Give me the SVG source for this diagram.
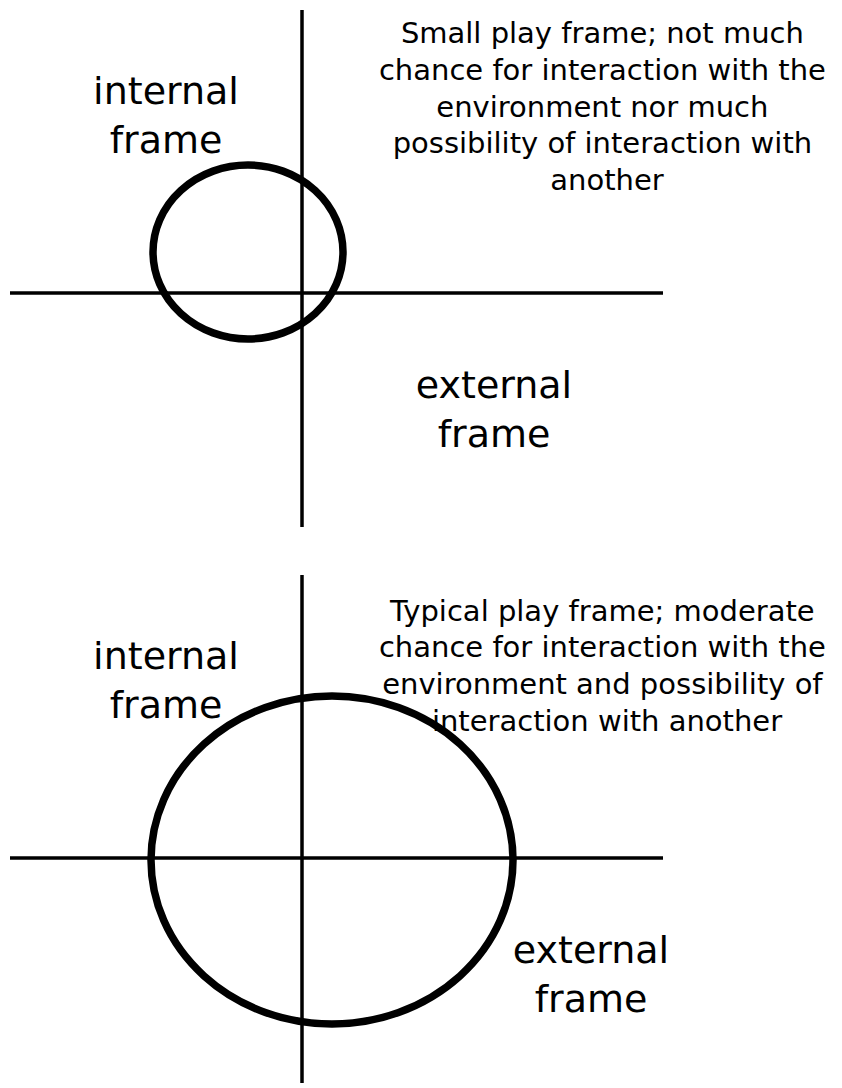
<svg xmlns="http://www.w3.org/2000/svg" width="842" height="1088" viewBox="0 0 842 1088">
<style>
.ax{stroke:#000;stroke-width:3.5;fill:none}
.fr{stroke:#000;stroke-width:7.5;fill:none}
.big{font-family:"DejaVu Sans","Open Sans",sans-serif;font-size:38px;fill:#000;text-anchor:middle}
.cap{font-family:"DejaVu Sans","Open Sans",sans-serif;font-size:29px;fill:#000;text-anchor:middle}
</style>
<rect width="842" height="1088" fill="#fff"/>
<g id="connectors">
<line class="ax" x1="302" y1="10" x2="302" y2="527"/>
<line class="ax" x1="10" y1="293" x2="663" y2="293"/>
<line class="ax" x1="302" y1="575" x2="302" y2="1083"/>
<line class="ax" x1="10" y1="858" x2="663" y2="858"/>
</g>
<g id="small-frame"><ellipse class="fr" cx="248" cy="252" rx="95" ry="87"/></g>
<g id="typical-frame"><ellipse class="fr" cx="332" cy="860" rx="181" ry="164"/></g>
<g id="top-internal"><text class="big" x="166" y="104">internal</text><text class="big" x="166" y="153">frame</text></g>
<g id="top-external"><text class="big" x="494" y="398">external</text><text class="big" x="494" y="447">frame</text></g>
<g id="top-caption"><text class="cap" x="607">
<tspan x="607" y="43">Small play frame; not much</tspan>
<tspan x="607" y="80">chance for interaction with the</tspan>
<tspan x="607" y="117">environment nor much</tspan>
<tspan x="607" y="153">possibility of interaction with</tspan>
<tspan x="607" y="190">another</tspan></text></g>
<g id="bottom-internal"><text class="big" x="166" y="669">internal</text><text class="big" x="166" y="718">frame</text></g>
<g id="bottom-external"><text class="big" x="591" y="963">external</text><text class="big" x="591" y="1012">frame</text></g>
<g id="bottom-caption"><text class="cap" x="607">
<tspan x="607" y="621">Typical play frame; moderate</tspan>
<tspan x="607" y="657">chance for interaction with the</tspan>
<tspan x="607" y="694">environment and possibility of</tspan>
<tspan x="607" y="731">interaction with another</tspan></text></g>
</svg>
